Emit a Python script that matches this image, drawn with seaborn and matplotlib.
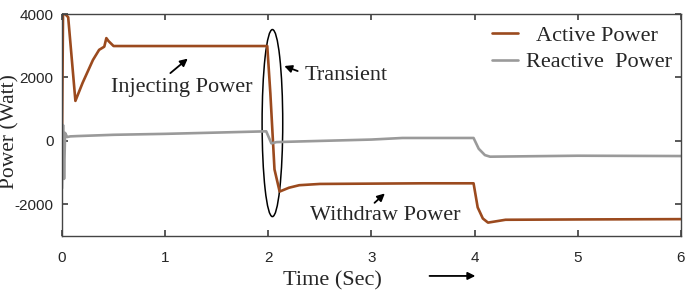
import numpy as np
import pandas as pd
import matplotlib.pyplot as plt
from matplotlib.patches import Ellipse, FancyArrowPatch
import seaborn as sns

# breakpoints (time in s, power in W)
active_time = [0.0, 0.005, 0.01, 0.03, 0.06, 0.13, 0.2, 0.3, 0.36, 0.41, 0.43, 0.45, 0.5,
               1.0, 1.5, 1.99, 2.02, 2.06, 2.11, 2.2, 2.3, 2.5, 3.0, 3.5, 3.99, 4.03,
               4.08, 4.13, 4.3, 5.0, 6.0]
active_power = [0, 2000, 4000, 4000, 3900, 1260, 1830, 2550, 2870, 2970, 3240, 3150, 2990,
                2990, 2990, 2990, 1500, -900, -1600, -1480, -1400, -1360, -1350, -1340, -1340, -2100,
                -2450, -2580, -2490, -2480, -2470]
reactive_time = [0.0, 0.01, 0.02, 0.03, 0.05, 0.08, 0.15, 0.5, 1.0, 1.5, 1.98, 2.03,
                 2.08, 2.3, 3.0, 3.3, 3.99, 4.04, 4.1, 4.15, 5.0, 6.0]
reactive_power = [-1500, 500, -1200, 250, 120, 140, 150, 190, 220, 260, 300, -80,
                  -40, -20, 40, 90, 90, -250, -450, -500, -470, -480]

sns.set_theme(style="ticks")
plt.rcParams["font.family"] = ["Liberation Sans", "DejaVu Sans"]
plt.rcParams["axes.unicode_minus"] = False

df = pd.concat([
    pd.DataFrame({"Time": active_time, "Power": active_power, "Series": "  Active Power"}),
    pd.DataFrame({"Time": reactive_time, "Power": reactive_power, "Series": "Reactive  Power"}),
])

fig = plt.figure(figsize=(6.85, 2.92), dpi=100)
ax = fig.add_axes([0.0905, 0.192, 0.9035, 0.76])
sns.lineplot(data=df, x="Time", y="Power", hue="Series", sort=False, estimator=None,
             palette={"  Active Power": "#9b4a1e", "Reactive  Power": "#9a9a9a"},
             linewidth=1.9, ax=ax)

ax.set_xlim(0, 6)
ax.set_ylim(-3000, 4000)
ax.set_xticks(range(0, 7))
ax.set_yticks([-2000, 0, 2000, 4000])
ax.tick_params(direction="in", top=True, right=True, labelsize=11, length=4, color="#444444")
ax.tick_params(axis="x", pad=11)
ax.tick_params(axis="y", pad=6)
for s in ax.spines.values():
    s.set_color("#444444")
    s.set_linewidth(1.0)
ax.set_xlabel("")
ax.set_ylabel("")
fig.text(0.015, 0.55, "Power (Watt)", rotation=90, ha="center", va="center",
         family="Liberation Serif", fontsize=15.5)

serif = dict(family="Liberation Serif", fontsize=16)
leg = ax.legend(loc="upper right", frameon=False, prop={"family": "Liberation Serif", "size": 16},
                handlelength=1.2, borderaxespad=0.0, labelspacing=0.28, handletextpad=0.35,
                bbox_to_anchor=(1.0, 0.99))

ax.add_patch(Ellipse((2.04, 560), 0.2, 5900, fill=False, edgecolor="black", linewidth=1.1))

arrow = dict(arrowstyle="-|>", color="black", lw=1.3, mutation_scale=11)
ax.annotate("", xy=(1.24, 2650), xytext=(1.03, 2080), arrowprops=arrow)
ax.text(1.16, 1670, "Injecting Power", ha="center", va="center", **serif)
ax.annotate("", xy=(2.13, 2390), xytext=(2.31, 2170), arrowprops=arrow)
ax.text(2.355, 2050, "Transient", ha="left", va="center", **serif)
ax.annotate("", xy=(3.15, -1600), xytext=(3.01, -2015), arrowprops=arrow)
ax.text(3.13, -2360, "Withdraw Power", ha="center", va="center", **serif)

fig.text(0.486, 0.038, "Time (Sec)", ha="center", va="center", family="Liberation Serif", fontsize=16)
fig.patches.append(FancyArrowPatch(
    (0.623, 0.055), (0.698, 0.055), transform=fig.transFigure, arrowstyle="-|>",
    mutation_scale=11, color="black", lw=1.3))

fig.savefig("out.png", dpi=100)
